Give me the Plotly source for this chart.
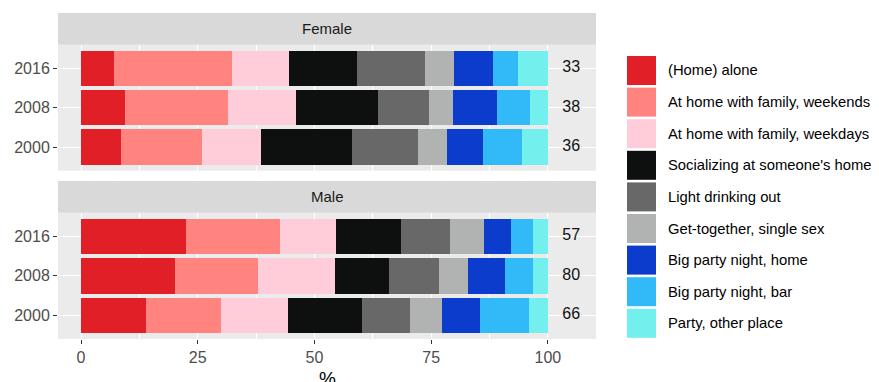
import plotly.graph_objects as go

categories = ["(Home) alone", "At home with family, weekends", "At home with family, weekdays",
              "Socializing at someone's home", "Light drinking out", "Get-together, single sex",
              "Big party night, home", "Big party night, bar", "Party, other place"]
colors = ["#E01F27", "#FF8480", "#FFCCDA", "#0E1010", "#676867", "#B1B3B3", "#0C3CCC", "#31BAF7", "#73EFEE"]
years = ["2016", "2008", "2000"]

# shares (%) per category, order of years: 2016, 2008, 2000
female = {
    "(Home) alone": [7.1, 9.4, 8.5],
    "At home with family, weekends": [25.2, 22.0, 17.5],
    "At home with family, weekdays": [12.3, 14.7, 12.6],
    "Socializing at someone's home": [14.6, 17.6, 19.4],
    "Light drinking out": [14.4, 10.9, 14.1],
    "Get-together, single sex": [6.3, 5.0, 6.3],
    "Big party night, home": [8.3, 9.4, 7.6],
    "Big party night, bar": [5.3, 7.2, 8.5],
    "Party, other place": [6.5, 3.8, 5.5],
}
male = {
    "(Home) alone": [22.4, 20.2, 13.9],
    "At home with family, weekends": [20.2, 17.6, 16.0],
    "At home with family, weekdays": [12.1, 16.6, 14.5],
    "Socializing at someone's home": [13.9, 11.6, 15.7],
    "Light drinking out": [10.4, 10.6, 10.4],
    "Get-together, single sex": [7.4, 6.3, 6.9],
    "Big party night, home": [5.7, 8.0, 8.1],
    "Big party night, bar": [4.8, 6.0, 10.4],
    "Party, other place": [3.1, 3.1, 4.2],
}
female_n = ["33", "38", "36"]
male_n = ["57", "80", "66"]
x_ticks = [0, 25, 50, 75, 100]
label_x = 105

# page has an 8px body margin, so the figure is shrunk and shifted accordingly
OFF = 8
W, H = 879 - OFF, 382 - OFF
PL, PR, PT, PB = 58, 596, 13, 339  # plot area in window pixels
ML, MT = PL - OFF, PT - OFF
PW = PR - PL
PH = PB - PT
MR = W - ML - PW
MB = H - MT - PH


def px_x(p):
    return (p - PL) / PW


def px_y(p):
    return (PB - p) / PH


FONT = "Liberation Sans, Arial, sans-serif"
fig = go.Figure()

for data, n, xa, ya in [(female, female_n, "x", "y"), (male, male_n, "x2", "y2")]:
    for cat, col in zip(categories, colors):
        fig.add_trace(go.Bar(
            y=years, x=data[cat], orientation="h", marker=dict(color=col, line=dict(width=0)),
            width=0.9, name=cat, showlegend=False, xaxis=xa, yaxis=ya, hoverinfo="x+name"))
    fig.add_trace(go.Scatter(
        x=[label_x] * len(years), y=years, text=n, mode="text", showlegend=False,
        textfont=dict(size=16, color="#111111", family=FONT), xaxis=xa, yaxis=ya, hoverinfo="skip"))

female_dom = [px_y(170.7), px_y(44.7)]
male_dom = [px_y(339), px_y(212.7)]
xrange = [-4.93, 110.3]

common_x = dict(range=xrange, showgrid=True, gridcolor="white", gridwidth=1.1, zeroline=False,
                tickvals=x_ticks, fixedrange=True,
                minor=dict(tick0=12.5, dtick=25, showgrid=True, gridcolor="white", gridwidth=0.5))
common_y = dict(type="category", categoryorder="array", categoryarray=["2000", "2008", "2016"],
                range=[-0.6, 2.6], showgrid=True, gridcolor="white", gridwidth=1.1,
                ticks="outside", ticklen=4, tickcolor="#333333", tickwidth=1,
                tickfont=dict(size=16, color="#4D4D4D", family=FONT), zeroline=False)

fig.update_layout(
    width=W, height=H, margin=dict(l=ML, r=MR, t=MT, b=MB, autoexpand=False),
    barmode="stack", bargap=0.1, plot_bgcolor="#EBEBEB", paper_bgcolor="white",
    font=dict(family=FONT),
    xaxis=dict(domain=[0, 1], anchor="y", showticklabels=False, **common_x),
    yaxis=dict(domain=female_dom, anchor="x", **common_y),
    xaxis2=dict(domain=[0, 1], anchor="y2", showticklabels=True, ticks="outside", ticklen=4,
                tickcolor="#333333", tickwidth=1,
                tickfont=dict(size=16, color="#4D4D4D", family=FONT), **common_x),
    yaxis2=dict(domain=male_dom, anchor="x2", **common_y),
    showlegend=False,
)

shapes = []
annotations = []
# facet strips
for label, top, bot in [("Female", 13, 44.7), ("Male", 181, 212.7)]:
    shapes.append(dict(type="rect", xref="paper", yref="paper", x0=0, x1=1,
                       y0=px_y(bot), y1=px_y(top), fillcolor="#D9D9D9", line=dict(width=0), layer="below"))
    annotations.append(dict(xref="paper", yref="paper", x=0.5, y=px_y((top + bot) / 2), text=label,
                            showarrow=False, font=dict(size=15, color="#1A1A1A", family=FONT),
                            xanchor="center", yanchor="middle"))

# x axis title
annotations.append(dict(xref="paper", yref="paper", x=0.5, y=0, yanchor="top", yshift=-27,
                        text="%", showarrow=False, font=dict(size=19, color="#000000", family=FONT)))

# legend
key_top0 = 56
step = 31.6
for i, (cat, col) in enumerate(zip(categories, colors)):
    t = key_top0 + i * step
    b = t + 29
    shapes.append(dict(type="rect", xref="paper", yref="paper", x0=px_x(627), x1=px_x(656),
                       y0=px_y(b), y1=px_y(t), fillcolor=col, line=dict(width=0)))
    annotations.append(dict(xref="paper", yref="paper", x=px_x(666), y=px_y((t + b) / 2), text=cat,
                            showarrow=False, xanchor="left", yanchor="middle",
                            font=dict(size=14.8, color="#000000", family=FONT)))

fig.update_layout(shapes=shapes, annotations=annotations)
fig.write_html("out.html")
